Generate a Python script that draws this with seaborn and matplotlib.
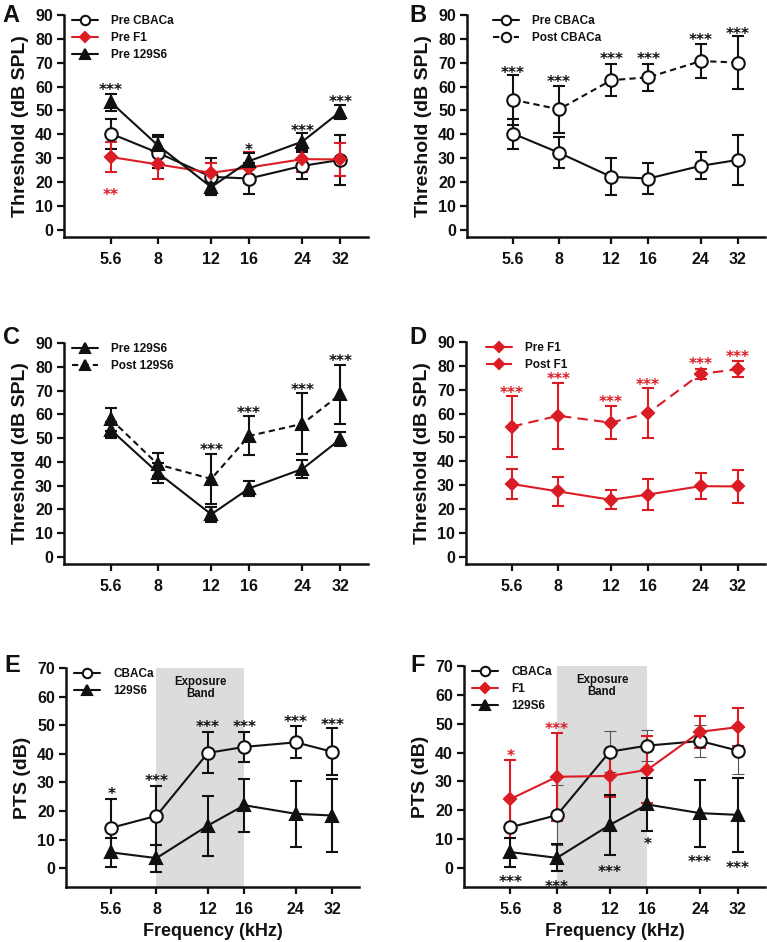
import matplotlib
matplotlib.use("Agg")
import matplotlib.pyplot as plt
import seaborn as sns
import pandas as pd

# ---------------- data ----------------
freqs = [5.6, 8, 12, 16, 24, 32]
freq_labels = ["5.6", "8", "12", "16", "24", "32"]

pre_cba = [40.3, 32.3, 22.2, 21.5, 26.8, 29.3]
pre_cba_err = [6.3, 6.4, 7.7, 6.6, 5.6, 10.6]
post_cba = [54.5, 50.5, 62.7, 63.9, 70.7, 70.1]
post_cba_err = [10.5, 9.8, 6.8, 5.7, 7.0, 11.0]

pre_f1 = [30.5, 27.4, 23.9, 26.1, 29.6, 29.5]
pre_f1_err = [6.4, 6.0, 4.0, 6.6, 5.5, 6.9]
post_f1 = [54.6, 59.1, 56.2, 60.2, 76.6, 78.6]
post_f1_err = [12.9, 13.8, 6.9, 10.4, 2.2, 3.3]

pre_129 = [53.4, 35.4, 17.9, 28.8, 37.0, 49.5]
pre_129_err = [3.5, 4.2, 3.2, 3.2, 3.6, 3.0]
post_129 = [57.9, 38.9, 32.8, 50.9, 56.0, 68.4]
post_129_err = [4.8, 4.7, 10.5, 8.2, 12.8, 12.4]

pts_cba = [14.1, 18.3, 40.3, 42.4, 44.0, 40.7]
pts_cba_err = [10.1, 10.3, 7.2, 5.3, 5.6, 8.3]
pts_129 = [5.5, 3.5, 14.9, 22.0, 19.0, 18.4]
pts_129_err = [5.0, 4.7, 10.5, 9.2, 11.6, 12.7]
pts_f1 = [23.9, 31.6, 31.9, 34.0, 47.2, 48.8]
pts_f1_err = [13.4, 15.3, 7.2, 11.6, 5.6, 6.6]

# significance marks: (text, frequency, y, colour-key)
stars_a = [("***", 5.6, 60.7, "k"), ("**", 5.6, 16.5, "r"), ("*", 16, 35.6, "k"),
           ("***", 24, 43.5, "k"), ("***", 32, 55.5, "k")]
stars_b = [("***", 5.6, 67.7, "k"), ("***", 8, 63.9, "k"), ("***", 12, 73.7, "k"),
           ("***", 16, 73.7, "k"), ("***", 24, 81.6, "k"), ("***", 32, 84.0, "k")]
stars_c = [("***", 12, 47.0, "k"), ("***", 16, 62.4, "k"), ("***", 24, 72.2, "k"),
           ("***", 32, 84.4, "k")]
stars_d = [("***", 5.6, 70.7, "r"), ("***", 8, 76.3, "r"), ("***", 12, 66.9, "r"),
           ("***", 16, 73.9, "r"), ("***", 24, 82.6, "r"), ("***", 32, 85.7, "r")]
stars_e = [("*", 5.6, 27.4, "k"), ("***", 8, 32.1, "k"), ("***", 12, 51.0, "k"),
           ("***", 16, 51.0, "k"), ("***", 24, 52.9, "k"), ("***", 32, 51.7, "k")]
stars_f = [("*", 5.6, 40.3, "r"), ("***", 8, 49.9, "r"), ("***", 5.6, -3.2, "k"),
           ("***", 8, -5.0, "k"), ("***", 12, 0.2, "k"), ("*", 16, 9.8, "k"),
           ("***", 24, 3.7, "k"), ("***", 32, 1.7, "k")]

# ---------------- style ----------------
sns.set_theme(style="ticks")
plt.rcParams["font.family"] = ["Liberation Sans", "DejaVu Sans"]
RED = "#dc1c24"
BLK = "#111111"
COL = {"k": BLK, "r": RED}

W, H = 767, 942
fig = plt.figure(figsize=(W / 100, H / 100), dpi=100)


def px_axes(l, t, r, b):
    return fig.add_axes([l / W, 1 - b / H, (r - l) / W, (b - t) / H])


def series(ax, y, err, color, marker, ls, label, mfc=None, ms=9, elw=1.5, ecolor=None):
    df = pd.DataFrame({"freq": freqs, "val": y})
    ax.errorbar(freqs, y, yerr=err, fmt="none", ecolor=ecolor or color,
                elinewidth=elw, capsize=4.5, capthick=elw, zorder=2)
    sns.lineplot(data=df, x="freq", y="val", ax=ax, color=color, marker=marker,
                 linestyle=ls, markersize=ms, markerfacecolor=mfc or color,
                 markeredgecolor=color, markeredgewidth=1.5, linewidth=1.5,
                 label=label, zorder=3, legend=False)


def style_axes(ax, ymax, ymin, ylabel, xlabel=None):
    ax.set_xscale("log", base=2)
    ax.set_xlim(3.92, 39.5)
    ax.set_ylim(ymin, ymax)
    ax.set_xticks(freqs)
    ax.set_xticklabels(freq_labels)
    ax.minorticks_off()
    ax.set_yticks(range(0, ymax + 1, 10))
    for s in ("top", "right"):
        ax.spines[s].set_visible(False)
    for s in ("left", "bottom"):
        ax.spines[s].set_linewidth(1.8)
        ax.spines[s].set_color(BLK)
    ax.tick_params(axis="both", width=1.6, length=5, color=BLK, labelsize=11.5,
                   labelcolor=BLK, pad=3)
    ax.tick_params(axis="x", pad=6)
    for lab in ax.get_xticklabels() + ax.get_yticklabels():
        lab.set_fontweight("bold")
    ax.set_ylabel(ylabel, fontsize=14, fontweight="bold", color=BLK, labelpad=4)
    ax.set_xlabel(xlabel or "", fontsize=13, fontweight="bold", color=BLK, labelpad=4)


def legend(ax, handles_labels, x0=0.02):
    h, l = handles_labels
    leg = ax.legend(h, l, loc="upper left", bbox_to_anchor=(x0, 1.01), frameon=False,
                    fontsize=8.5, handlelength=2.2, handletextpad=1.1, labelspacing=0.42,
                    markerscale=0.75, borderaxespad=0, borderpad=0.2)
    for t in leg.get_texts():
        t.set_fontweight("bold")
        t.set_color(BLK)


def stars(ax, items, fs=11):
    for s, f, y, c in items:
        ax.annotate(s, (f, y), xytext=(0, -0.34 * fs), textcoords="offset points",
                    ha="center", va="center", fontsize=fs, color=COL[c],
                    family="DejaVu Sans", fontweight="bold")


# ---------------- Panel A ----------------
axA = px_axes(64, 15, 368, 237)
series(axA, pre_cba, pre_cba_err, BLK, "o", "-", "Pre CBACa", mfc="white")
series(axA, pre_f1, pre_f1_err, RED, "D", "-", "Pre F1", ms=6.5)
series(axA, pre_129, pre_129_err, BLK, "^", "-", "Pre 129S6")
style_axes(axA, 90, -3, "Threshold (dB SPL)")
legend(axA, axA.get_legend_handles_labels())
stars(axA, stars_a)

# ---------------- Panel B ----------------
axB = px_axes(467, 15, 765, 237)
series(axB, pre_cba, pre_cba_err, BLK, "o", "-", "Pre CBACa", mfc="white")
series(axB, post_cba, post_cba_err, BLK, "o", (0, (3, 2)), "Post CBACa", mfc="white")
style_axes(axB, 90, -3, "Threshold (dB SPL)")
legend(axB, axB.get_legend_handles_labels(), x0=0.08)
stars(axB, stars_b)

# ---------------- Panel C ----------------
axC = px_axes(64, 343, 368, 564)
series(axC, pre_129, pre_129_err, BLK, "^", "-", "Pre 129S6")
series(axC, post_129, post_129_err, BLK, "^", (0, (3, 2)), "Post 129S6")
style_axes(axC, 90, -3, "Threshold (dB SPL)")
legend(axC, axC.get_legend_handles_labels())
stars(axC, stars_c)

# ---------------- Panel D ----------------
axD = px_axes(466, 342, 765, 564)
series(axD, pre_f1, pre_f1_err, RED, "D", "-", "Pre F1", ms=6.5)
series(axD, post_f1, post_f1_err, RED, "D", (0, (5, 3)), "Post F1", ms=6.5)
style_axes(axD, 90, -3, "Threshold (dB SPL)")
legend(axD, axD.get_legend_handles_labels(), x0=0.06)
stars(axD, stars_d)

# ---------------- Panel E ----------------
axE = px_axes(66, 668, 359, 887)
axE.axvspan(8, 16, color="#dcdcdc", zorder=0, lw=0)
series(axE, pts_cba, pts_cba_err, BLK, "o", "-", "CBACa", mfc="white")
series(axE, pts_129, pts_129_err, BLK, "^", "-", "129S6")
style_axes(axE, 70, -6.6, "PTS (dB)", "Frequency (kHz)")
legend(axE, axE.get_legend_handles_labels())
stars(axE, stars_e)
axE.text(11.3, 63.0, "Exposure\nBand", ha="center", va="center", fontsize=8.3,
         fontweight="bold", color=BLK, linespacing=1.0)

# ---------------- Panel F ----------------
axF = px_axes(464, 666, 765, 887)
axF.axvspan(8, 16, color="#dcdcdc", zorder=0, lw=0)
series(axF, pts_cba, pts_cba_err, BLK, "o", "-", "CBACa", mfc="white", elw=0.8,
       ecolor="#555555")
series(axF, pts_f1, pts_f1_err, RED, "D", "-", "F1", ms=6.5)
series(axF, pts_129, pts_129_err, BLK, "^", "-", "129S6")
style_axes(axF, 70, -6.6, "PTS (dB)", "Frequency (kHz)")
legend(axF, axF.get_legend_handles_labels())
stars(axF, stars_f)
axF.text(11.3, 63.0, "Exposure\nBand", ha="center", va="center", fontsize=8.3,
         fontweight="bold", color=BLK, linespacing=1.0)

# ---------------- panel letters ----------------
for letter, x, y in [("A", 11, 15), ("B", 418, 15), ("C", 11, 337), ("D", 418, 337),
                     ("E", 12, 665), ("F", 418, 665)]:
    fig.text(x / W, 1 - y / H, letter, fontsize=17, fontweight="bold", color=BLK,
             ha="center", va="center")

fig.savefig("out.png", dpi=100)
